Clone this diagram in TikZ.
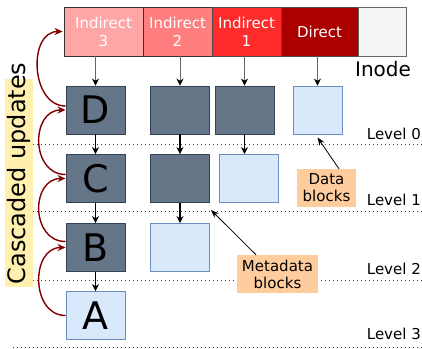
\documentclass[tikz,border=0pt]{standalone}
\usepackage{fontspec}
\setmainfont{DejaVu Sans}
\usetikzlibrary{arrows.meta}

\definecolor{indthree}{HTML}{FFA6A6}
\definecolor{indtwo}{HTML}{FF7F7F}
\definecolor{indone}{HTML}{FF2B2B}
\definecolor{directc}{HTML}{AA0000}
\definecolor{spare}{HTML}{F5F5F5}
\definecolor{metafill}{HTML}{647687}
\definecolor{metaline}{HTML}{314354}
\definecolor{datafill}{HTML}{DAE8FC}
\definecolor{dataline}{HTML}{6C8EBF}
\definecolor{notefill}{HTML}{FFCC9E}
\definecolor{cascfill}{HTML}{FFF0B0}
\definecolor{cascline}{HTML}{800000}

\begin{document}
\begin{tikzpicture}[x=1pt,y=-1pt,
  cell/.style={draw=#1, line width=0.8pt, minimum height=49pt, inner sep=0pt,
    text=white, align=center, font=\fontsize{15}{18}\selectfont},
  metabox/.style={draw=metaline, fill=metafill, line width=0.9pt,
    minimum width=59pt, minimum height=48pt, inner sep=0pt,
    font=\fontsize{38}{40}\selectfont},
  databox/.style={draw=dataline, fill=datafill, line width=0.9pt,
    minimum width=59pt, minimum height=48pt, inner sep=0pt,
    font=\fontsize{38}{40}\selectfont},
  note/.style={fill=notefill, inner sep=0pt, align=center,
    font=\fontsize{15}{17}\selectfont},
  levelline/.style={draw=black!75, line width=0.8pt, dash pattern=on 1pt off 3pt},
  leveltext/.style={anchor=base east, inner sep=0pt, font=\fontsize{15}{18}\selectfont},
  fromnode/.style={draw=black!60, line width=0.9pt, -{Stealth[black,length=7pt,width=7pt]}},
  down/.style={draw=black, line width=1.4pt, -{Stealth[length=7pt,width=7pt]}},
  pointer/.style={draw=black, line width=0.8pt, -{Stealth[length=8pt,width=6pt]}},
  casc/.style={draw=cascline, line width=1.4pt, -{Stealth[length=8pt,width=7pt]}}]

\useasboundingbox (0,0) rectangle (422,348);

% level separators
\draw[levelline] (13,144) -- (422,144);
\draw[levelline] (13,211) -- (422,211);
\draw[levelline] (13,280) -- (422,280);
\draw[levelline] (13,347) -- (422,347);

\node[leveltext] (l0) at (421,139) {Level 0};
\node[leveltext] (l1) at (421,205) {Level 1};
\node[leveltext] (l2) at (421,274) {Level 2};
\node[leveltext] (l3) at (421,339) {Level 3};

% inode pointer slots
\node[cell=black!80, fill=indthree, minimum width=79pt] (i3) at (103.5,31.5) {Indirect\\3};
\node[cell=black!80, fill=indtwo, minimum width=69pt] (i2) at (177.5,31.5) {Indirect\\2};
\node[cell=black!70, fill=indone, minimum width=69pt] (i1) at (246.5,31.5) {Indirect\\1};
\node[cell=black!70, fill=directc, minimum width=77pt] (i0) at (319.5,31.5) {Direct};
\node[cell=black!60, fill=spare, minimum width=48pt] (ie) at (382,31.5) {};
\node[inner sep=0pt, font=\fontsize{20}{22}\selectfont] (inode) at (383,69) {Inode};

% block tree
\node[metabox] (d) at (95.5,110) {D};
\node[metabox] (c) at (95.5,178.5) {C};
\node[metabox] (b) at (95.5,247.5) {B};
\node[databox] (a) at (95.5,315.5) {A};

\node[metabox] (m20) at (180,110) {};
\node[metabox] (m21) at (180,178.5) {};
\node[databox] (m22) at (180,247.5) {};

\node[metabox] (m10) at (244.5,110) {};
\node[databox] (m11) at (248.5,178.5) {};

\node[databox, minimum width=49pt] (m00) at (317.5,110) {};

% pointers from the inode
\draw[fromnode] (i3.south -| d.north) -- (d.north);
\draw[fromnode] (i2.south -| m20.north) -- (m20.north);
\draw[fromnode] (i1.south -| m10.north) -- (m10.north);
\draw[fromnode] (i0.south -| m00.north) -- (m00.north);

% pointers between blocks
\draw[down] (d.south) -- (c.north);
\draw[down] (c.south) -- (b.north);
\draw[down] (b.south) -- (a.north);
\draw[down] (m20.south) -- (m21.north);
\draw[down] (m21.south) -- (m22.north);
\draw[down] (m10.south) -- (m10.south |- m11.north);

% labels
\node[note, minimum width=59pt, minimum height=38pt] (datal) at (326.5,188) {Data\\blocks};
\node[note, minimum width=81pt, minimum height=38pt] (metal) at (277.5,274) {Metadata\\blocks};
\draw[pointer] ([xshift=12.5pt]datal.north) -- ([yshift=-3pt]m00.south);
\draw[pointer] ([xshift=-21.5pt]metal.north) -- ([shift={(1pt,-7pt)}]m21.south east);

% cascaded updates
\fill[cascfill] (5,79) rectangle (33,287);
\node[rotate=90, inner sep=0pt, font=\fontsize{24}{26}\selectfont] (casclabel) at (19,173.5) {Cascaded updates};

\draw[casc] ([yshift=4pt]d.west) .. controls +(-35,0) and +(-35,0) .. ([xshift=-1pt]i3.west);
\draw[casc] ([yshift=4pt]c.west) .. controls +(-35,0) and +(-35,0) .. (d.west);
\draw[casc] ([yshift=6pt]b.west) .. controls +(-35,0) and +(-35,0) .. (c.west);
\draw[casc] (a.west) .. controls +(-35,0) and +(-35,0) .. (b.west);
\end{tikzpicture}
\end{document}
